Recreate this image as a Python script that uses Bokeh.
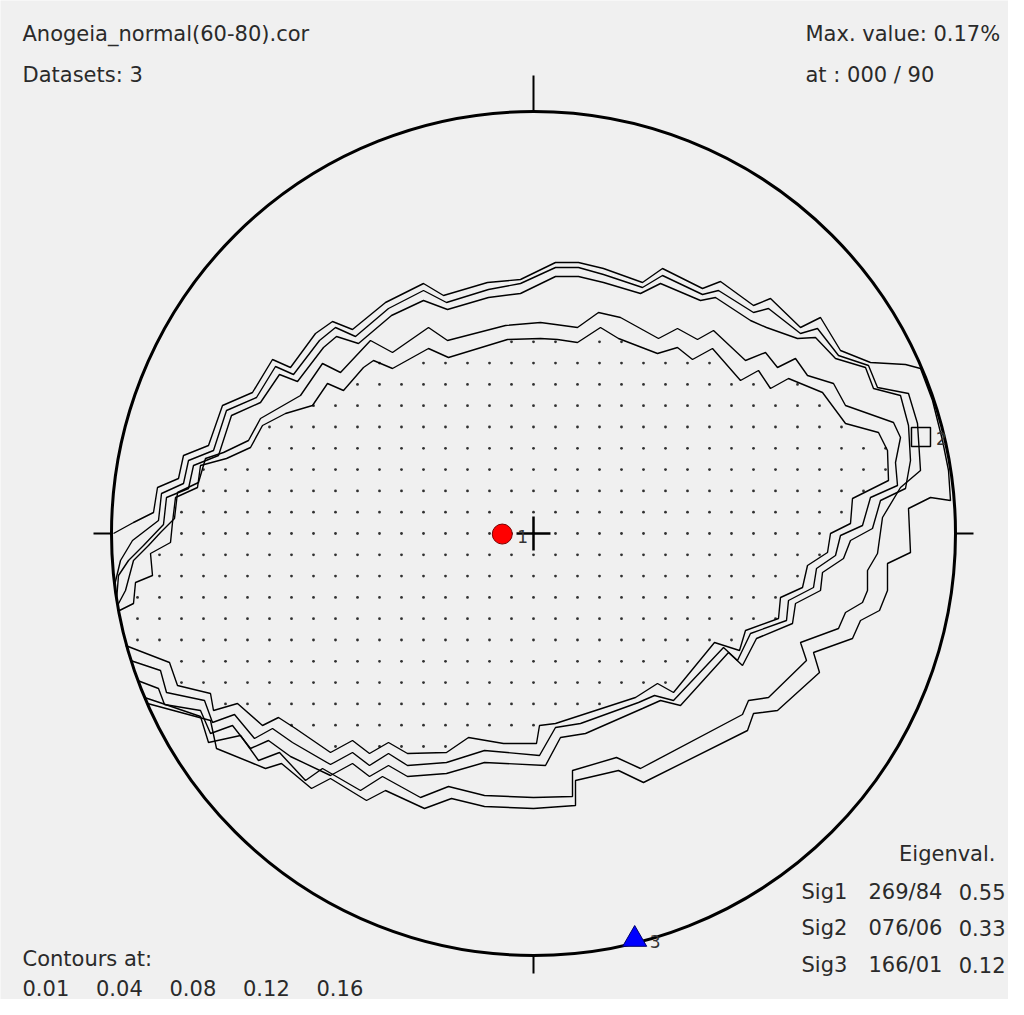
import numpy as np
from bokeh.plotting import figure
from bokeh.models import Range1d
from bokeh.embed import file_html
from bokeh.resources import INLINE
from bokeh.core.properties import value

# ---------------- data ----------------
title = "Anogeia_normal(60-80).cor"
n_datasets = 3
max_value = 0.17
max_at = "000 / 90"
contour_levels = [0.01, 0.04, 0.08, 0.12, 0.16]

sig_names = ["Sig1", "Sig2", "Sig3"]
sig_trend = [269, 76, 166]
sig_plunge = [84, 6, 1]
sig_eigen = [0.55, 0.33, 0.12]

# contour traces (net drawing units, y downward), one per level
c01_x = [113,133,153,157,178,183,208,222,252,272,290,315,332,352,385,423,443,487,520,555,
         578,603,642,662,702,720,753,770,800,820,840,870,905,920,932,942,948,950,930,908,
         910,887,887,879,860,852,813,819,777,753,747,643,618,575,575,533,484,451,424,385,
         366,330,311,281,265,216,210,147]
c01_y = [533,522,512,487,478,455,445,405,392,359,367,333,321,329,302,283,295,282,279,262,
         262,268,282,268,288,281,305,298,327,317,350,362,364,368,400,440,470,500,497,508,
         552,563,590,610,620,638,652,672,710,713,730,782,770,780,805,808,806,798,808,790,
         800,778,788,763,768,748,720,703]

c04_x = [114,120,132,158,161,183,188,213,226,256,275,293,319,335,355,388,423,446,488,520,
         555,578,603,642,662,702,718,753,768,800,817,838,868,877,908,917,920,900,882,877,
         867,867,862,845,838,800,806,768,748,742,640,616,572,572,533,484,448,420,382,360,
         322,305,279,258,240,208,200,162,144]
c04_y = [585,560,540,520,493,483,460,450,410,397,366,374,340,327,336,308,290,302,289,283,
         267,267,274,287,275,294,290,312,308,333,328,355,365,387,393,423,470,487,517,553,
         570,590,602,612,628,642,660,697,700,714,768,757,770,796,797,795,786,797,776,790,
         768,780,752,760,735,742,716,703,697]

c08_x = [116,118,128,143,163,166,188,193,218,231,260,279,297,323,336,358,391,423,447,488,
         520,555,578,603,640,660,700,715,750,766,797,815,835,865,873,900,908,910,905,880,
         872,850,843,822,820,795,792,756,742,728,680,660,642,585,560,545,484,446,407,388,
         369,352,330,290,268,250,232,210,200,164,158,137]
c08_y = [600,575,560,545,524,497,488,465,455,415,402,374,381,347,336,343,315,300,309,297,
         293,276,276,282,293,283,300,297,320,327,338,337,358,367,388,395,425,460,488,500,
         528,540,558,572,590,603,623,638,665,652,705,700,708,733,737,765,762,773,776,765,
         776,763,775,756,740,748,725,733,710,704,688,680]

c12_x = [117,125,133,148,160,174,177,198,205,223,248,260,300,322,340,370,392,428,447,505,
         540,555,577,598,620,658,677,697,713,745,765,777,795,807,833,845,893,900,895,897,
         870,862,840,835,816,813,788,786,750,737,723,673,654,638,580,555,539,484,446,407,
         388,369,352,330,292,272,254,234,212,204,166,160,130]
c12_y = [605,590,560,545,532,518,492,482,458,452,440,418,395,363,372,340,352,327,340,325,
         322,324,327,312,317,338,328,339,330,360,352,367,358,375,383,405,422,437,462,485,
         497,525,535,555,568,587,600,620,633,660,647,700,695,702,723,727,755,750,762,765,
         753,765,752,764,742,728,738,714,722,700,692,670,660]

c16_x = [119,133,135,152,150,170,172,175,197,200,226,250,262,285,312,327,343,363,373,392,
         428,448,507,540,557,577,600,618,657,677,692,712,740,758,770,788,822,845,878,887,
         888,852,850,830,827,807,802,780,778,745,739,714,673,657,635,555,539,536,503,468,
         446,407,388,369,352,330,295,278,262,237,213,210,177,169,125]
c16_y = [610,603,582,575,553,542,522,497,487,465,458,447,425,413,405,383,390,367,360,368,
         348,357,339,338,339,342,327,338,353,347,359,348,380,370,388,378,392,423,432,450,
         480,498,523,533,552,565,587,597,618,630,650,642,692,683,697,723,725,743,743,737,
         752,753,742,753,740,752,728,717,725,703,710,693,685,662,645]

contours_x = [c01_x, c04_x, c08_x, c12_x, c16_x]
contours_y = [c01_y, c04_y, c08_y, c12_y, c16_y]

# ---------------- net geometry / styling constants ----------------
CX, CY, R = 533.0, 533.0, 422.0
STIPPLE_DX, STIPPLE_DY = 22.0, 21.3   # spacing of the stipple texture


def project(trend, plunge):
    """Lambert equal-area, lower hemisphere -> drawing units (y down)."""
    t = np.radians(np.asarray(trend, float))
    r = R * np.sqrt(2.0) * np.sin(np.radians(90.0 - np.asarray(plunge, float)) / 2.0)
    return CX + r * np.sin(t), CY - r * np.cos(t)


def inside(px, py, vx, vy):
    """Even-odd point-in-polygon test."""
    vx = np.asarray(vx, float)
    vy = np.asarray(vy, float)
    res = np.zeros(px.shape, bool)
    for x1, y1, x2, y2 in zip(vx, vy, np.roll(vx, -1), np.roll(vy, -1)):
        if y1 == y2:
            continue
        cross = (y1 > py) != (y2 > py)
        xint = x1 + (py - y1) * (x2 - x1) / (y2 - y1)
        res ^= cross & (px < xint)
    return res


sx, sy = project(sig_trend, sig_plunge)

# stipple texture filling the area above the highest contour level
gx, gy = np.meshgrid(CX + STIPPLE_DX * np.arange(-20, 21), CY + STIPPLE_DY * np.arange(-20, 21))
gx, gy = gx.ravel(), gy.ravel()
mask = inside(gx, gy, contours_x[-1], contours_y[-1])
dot_x, dot_y = gx[mask], gy[mask]

p = figure(width=1008, height=999,
           x_range=Range1d(0, 1008), y_range=Range1d(999, 0),
           output_backend="svg", toolbar_location=None,
           x_axis_type=None, y_axis_type=None, min_border=0,
           background_fill_color="#f0f0f0", border_fill_color="#f0f0f0",
           outline_line_color=None)
p.grid.visible = False

FONT = value("DejaVu Sans")
TXT = "#2a2a2a"
FS = "21px"

p.scatter(dot_x, dot_y, marker="circle", size=2.8, fill_color="#303030", line_color=None)

# contour lines
for xs, ys in zip(contours_x, contours_y):
    p.line(xs, ys, line_color="black", line_width=1.4)

# primitive circle
p.circle(x=[CX], y=[CY], radius=R, fill_color=None, line_color="black", line_width=3)

# N/E/S/W ticks
p.segment(x0=[CX, CX, CX - R - 18, CX + R], y0=[CY - R - 36, CY + R, CY, CY],
          x1=[CX, CX, CX - R, CX + R + 18], y1=[CY - R, CY + R + 18, CY, CY],
          line_color="black", line_width=2)
# centre cross
p.segment(x0=[CX - 17, CX], y0=[CY, CY - 17], x1=[CX + 17, CX], y1=[CY, CY + 17],
          line_color="black", line_width=2.5)

# principal axes
p.scatter([sx[0]], [sy[0]], marker="circle", size=20, fill_color="#ff0000",
          line_color="#7a0000", line_width=1)
p.scatter([sx[1]], [sy[1]], marker="square", size=19, fill_color=None,
          line_color="black", line_width=1.5)
p.scatter([sx[2]], [sy[2]], marker="triangle", size=24, fill_color="#0000ff",
          line_color="#00006a", line_width=1)
p.text(x=list(sx + 15), y=list(sy + 2), text=["1", "2", "3"], text_font=FONT,
       text_font_size="17px", text_color="#333333", text_baseline="alphabetic")

# header texts
p.text(x=[22, 22], y=[33, 74], text=[title, f"Datasets: {n_datasets}"],
       text_font=FONT, text_font_size=FS, text_color=TXT, text_baseline="alphabetic")
p.text(x=[805, 805], y=[33, 74], text=[f"Max. value: {max_value:.2f}%", f"at : {max_at}"],
       text_font=FONT, text_font_size=FS, text_color=TXT, text_baseline="alphabetic")

# eigenvalue table
rows = np.arange(len(sig_names))
row_y = list(891 + 36.6 * rows)
p.text(x=[995], y=[853], text=["Eigenval."], text_font=FONT, text_font_size=FS,
       text_color=TXT, text_baseline="alphabetic", text_align="right")
p.text(x=[801] * 3, y=row_y, text=sig_names, text_font=FONT,
       text_font_size=FS, text_color=TXT, text_baseline="alphabetic")
p.text(x=[868] * 3, y=row_y,
       text=[f"{t:03d}/{pl:02d}" for t, pl in zip(sig_trend, sig_plunge)], text_font=FONT,
       text_font_size=FS, text_color=TXT, text_baseline="alphabetic")
p.text(x=[1005] * 3, y=row_y, text=[f"{e:.2f}" for e in sig_eigen],
       text_font=FONT, text_font_size=FS, text_color=TXT, text_baseline="alphabetic",
       text_align="right")

# contour legend
p.text(x=[22], y=[958], text=["Contours at:"], text_font=FONT, text_font_size=FS,
       text_color=TXT, text_baseline="alphabetic")
p.text(x=list(22 + 73.5 * np.arange(len(contour_levels))), y=[987] * len(contour_levels),
       text=[f"{c:.2f}" for c in contour_levels], text_font=FONT, text_font_size=FS,
       text_color=TXT, text_baseline="alphabetic")

open("out.html", "w").write(file_html(p, INLINE))
